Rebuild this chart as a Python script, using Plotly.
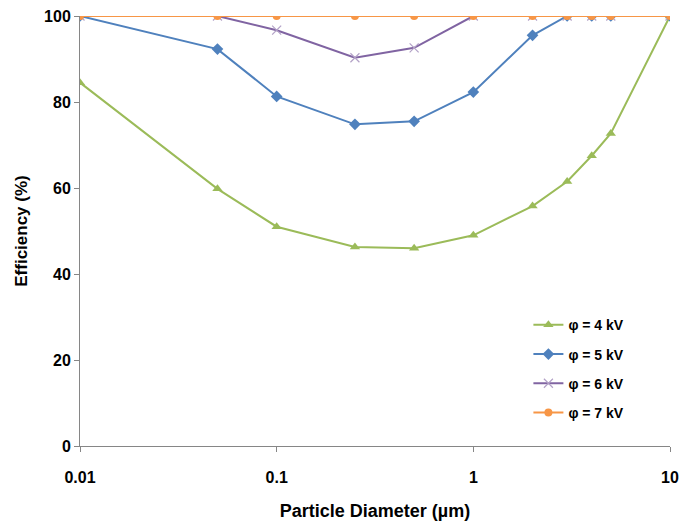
import plotly.graph_objects as go

diam = [0.01, 0.05, 0.1, 0.25, 0.5, 1, 2, 3, 4, 5, 10]
eff_4kv = [84.5, 59.8, 51.0, 46.3, 46.0, 49.0, 55.8, 61.5, 67.5, 72.7, 100]
eff_5kv = [100, 92.3, 81.3, 74.8, 75.5, 82.3, 95.5, 100, 100, 100, 100]
eff_6kv = [100, 100, 96.7, 90.3, 92.6, 100, 100, 100, 100, 100, 100]
eff_7kv = [100, 100, 100, 100, 100, 100, 100, 100, 100, 100, 100]

series = [
    ("φ = 4 kV", eff_4kv, "#9BBB59", "triangle-up", 9),
    ("φ = 5 kV", eff_5kv, "#4F81BD", "diamond", 9),
    ("φ = 6 kV", eff_6kv, "#8064A2", "x-thin", 9),
    ("φ = 7 kV", eff_7kv, "#F79646", "circle", 8),
]

fig = go.Figure()
for i, (name, vals, color, sym, size) in enumerate(series):
    marker = dict(symbol=sym, size=size, color=color)
    if sym == "x-thin":
        marker["line"] = dict(color="#B3A2C7", width=1.2)
    fig.add_trace(go.Scatter(
        x=diam, y=vals, name=name, mode="lines+markers",
        legendgroup=f"g{i}",
        line=dict(color=color, width=2), marker=marker,
    ))

fig.update_layout(
    width=681, height=522,
    margin=dict(l=80, r=11, t=16, b=76),
    paper_bgcolor="white", plot_bgcolor="white",
    font=dict(family="Arial, Liberation Sans, sans-serif", color="black"),
    legend=dict(x=0.76, y=0.318, xanchor="left", yanchor="top",
                font=dict(size=14, color="black", weight="bold"),
                tracegroupgap=8, traceorder="grouped",
                bgcolor="rgba(0,0,0,0)"),
    showlegend=True,
)
fig.update_xaxes(
    type="log", range=[-2, 1], automargin=False,
    tickvals=[0.01, 0.1, 1, 10], ticktext=["0.01", "0.1", "1", "10"],
    showgrid=False, showline=True, linecolor="#868686", linewidth=1,
    ticks="outside", ticklen=5, tickcolor="#868686",
    tickfont=dict(size=16, weight="bold"), ticklabelstandoff=12,
    title=dict(text="Particle Diameter (µm)", font=dict(size=18, weight="bold"), standoff=19),
    zeroline=False,
)
fig.update_yaxes(
    range=[0, 100], tickvals=[0, 20, 40, 60, 80, 100], automargin=False,
    showgrid=False, showline=True, linecolor="#868686", linewidth=1,
    ticks="outside", ticklen=5, tickcolor="#868686",
    tickfont=dict(size=16, weight="bold"),
    title=dict(text="Efficiency (%)", font=dict(size=17, weight="bold"), standoff=12),
    zeroline=False,
)

fig.write_html("out.html")
